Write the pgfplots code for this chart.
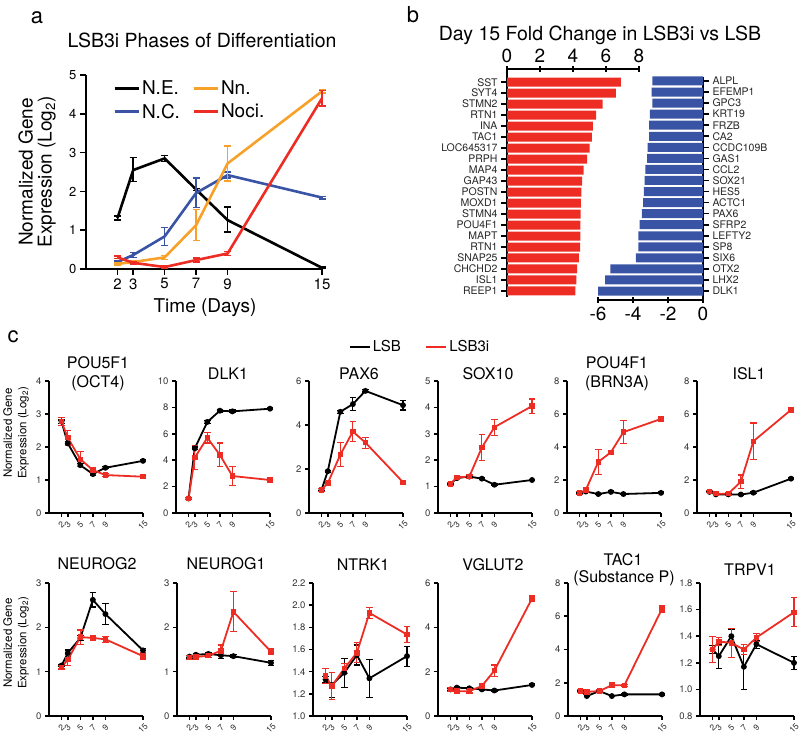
\documentclass[border=0pt]{standalone}
\usepackage{fontspec}
\setmainfont{TeX Gyre Heros}
\usepackage{pgfplots}
\pgfplotsset{compat=1.18}
\definecolor{pred}{RGB}{237,45,36}
\definecolor{pblue}{RGB}{58,84,165}
\definecolor{porange}{RGB}{247,161,42}
\newcommand\fs[1]{\fontsize{#1}{#1}\selectfont}
\pgfplotsset{
  prism/.style={scale only axis, axis lines=left, axis line style={line width=2.2pt,-},
    every tick/.style={black,line width=1.6pt}, major tick length=4pt, tick align=outside,
    /pgf/number format/assume math mode=true, clip=false, enlargelimits=false},
  cax/.style={prism, width=94pt, height=132pt, xmin=0, xmax=15, xtick={2,3,5,7,9,15},
    xticklabel style={font=\fs{8.5}, anchor=center, yshift=-8pt, rotate=45, text=black!80},
    yticklabel style={font=\fs{9.5}, text=black!80}},
  ebar/.style={error bars/y dir=both, error bars/y explicit,
    error bars/error bar style={line width=1.2pt},
    error bars/error mark options={rotate=90, mark size=3.2pt, line width=1.2pt}},
  lsb/.style={black, line width=1.8pt, mark=*, mark size=2pt, ebar},
  lsbi/.style={pred, line width=1.8pt, mark=square*, mark size=1.8pt, ebar},
  aline/.style={line width=2.6pt, mark=none, error bars/y dir=both, error bars/y explicit,
    error bars/error bar style={line width=1.5pt},
    error bars/error mark options={rotate=90, mark size=3.5pt, line width=1.5pt}},
}
\begin{document}
\begin{tikzpicture}[x=1pt,y=1pt]
\path[use as bounding box] (0,0) rectangle (800,739);

% ---------------- panel a
\node[font=\fs{22}] at (37,721) {a};
\node[font=\fs{19.5}] at (202,699) {LSB3i Phases of Differentiation};
\node[font=\fs{19}, rotate=90, align=center] at (37,567) {Normalized Gene\\Expression (Log\textsubscript{2})};
\node[font=\fs{19}] at (205,431) {Time (Days)};
\begin{axis}[prism, at={(86pt,470pt)}, anchor=south west, width=236pt, height=194pt,
  xmin=0, xmax=15, ymin=0, ymax=5, xtick={2,3,5,7,9,15}, ytick={0,1,2,3,4,5},
  axis line style={line width=2.6pt}, major tick length=6pt,
  xticklabel style={font=\fs{15}}, yticklabel style={font=\fs{13}},
  legend columns=2, legend cell align=left,
  legend image code/.code={\draw[#1, line width=3pt] (0pt,0pt) -- (24pt,0pt);},
  legend style={draw=none, fill=none, inner sep=0pt, at={(0.114,0.871)}, anchor=west,
    font=\fs{19}, row sep=4pt, /tikz/every even column/.append style={column sep=10pt}}]
\addlegendimage{black}\addlegendentry{N.E.}
\addlegendimage{porange}\addlegendentry{Nn.}
\addlegendimage{pblue}\addlegendentry{N.C.}
\addlegendimage{pred}\addlegendentry{Noci.}
\addplot[aline, black, forget plot] coordinates {(2,1.31) +- (0,0.05) (3,2.55) += (0,0.32) -= (0,0.30) (5,2.85) +- (0,0.08) (7,2.05) +- (0,0.03) (9,1.26) += (0,0.34) -= (0,0.31) (15,0.03) +- (0,0.02)};
\addplot[aline, pblue, forget plot] coordinates {(2,0.18) +- (0,0.03) (3,0.36) +- (0,0.07) (5,0.84) +- (0,0.23) (7,1.96) +- (0,0.38) (9,2.42) +- (0,0.08) (15,1.84) +- (0,0.03)};
\addplot[aline, porange, forget plot] coordinates {(2,0.13) +- (0,0.03) (3,0.18) +- (0,0.03) (5,0.30) +- (0,0.05) (7,1.13) +- (0,0.40) (9,2.72) +- (0,0.45) (15,4.58) +- (0,0.04)};
\addplot[aline, pred, forget plot] coordinates {(2,0.30) +- (0,0.03) (3,0.16) +- (0,0.03) (5,0.05) +- (0,0.03) (7,0.23) +- (0,0.05) (9,0.40) +- (0,0.05) (15,4.40) +- (0,0.20)};
\end{axis}

% ---------------- panel b
\node[font=\fs{22}] at (413,724) {b};
\node[font=\fs{19.5}] at (600,704) {Day 15 Fold Change in LSB3i vs LSB};
\begin{axis}[prism, at={(507pt,442pt)}, anchor=south west, width=132pt, height=228pt,
  axis x line=top, axis y line=left, axis line style={line width=2.2pt,-},
  xmin=0, xmax=8, ymin=-1.2, ymax=19.55, y dir=reverse,
  xtick={0,2,4,6,8}, xticklabel style={font=\fs{19}},
  ytick={0,...,19}, major tick length=6pt,
  yticklabels={SST,SYT4,STMN2,RTN1,INA,TAC1,LOC645317,PRPH,MAP4,GAP43,POSTN,MOXD1,STMN4,POU4F1,MAPT,RTN1,SNAP25,CHCHD2,ISL1,REEP1},
  yticklabel style={font=\fs{10.5}, text=black!85},
  xbar, bar width=9pt, bar shift=0pt]
\addplot[fill=pred, draw=none] coordinates {(6.9,0) (6.6,1) (5.8,2) (5.4,3) (5.2,4) (5.15,5) (5.0,6) (4.85,7) (4.65,8) (4.55,9) (4.5,10) (4.48,11) (4.46,12) (4.45,13) (4.44,14) (4.43,15) (4.35,16) (4.25,17) (4.2,18) (4.15,19)};
\end{axis}
\begin{axis}[prism, at={(598pt,439pt)}, anchor=south west, width=105pt, height=223pt,
  axis x line=bottom, axis y line=right, axis line style={line width=2.2pt,-},
  xmin=-6, xmax=0, ymin=-0.36, ymax=19.81, y dir=reverse,
  xtick={-6,-4,-2,0}, xticklabels={-6,-4,-2,0}, xticklabel style={font=\fs{19}},
  ytick={0,...,19}, major tick length=6pt,
  yticklabels={ALPL,EFEMP1,GPC3,KRT19,FRZB,CA2,CCDC109B,GAS1,CCL2,SOX21,HES5,ACTC1,PAX6,SFRP2,LEFTY2,SP8,SIX6,OTX2,LHX2,DLK1},
  yticklabel style={font=\fs{10.5}, text=black!85},
  xbar, bar width=9pt, bar shift=0pt]
\addplot[fill=pblue, draw=none] coordinates {(-2.9,0) (-2.93,1) (-2.9,2) (-3.03,3) (-3.08,4) (-3.08,5) (-3.16,6) (-3.2,7) (-3.3,8) (-3.34,9) (-3.38,10) (-3.42,11) (-3.5,12) (-3.62,13) (-3.7,14) (-3.7,15) (-3.84,16) (-5.3,17) (-5.6,18) (-6.0,19)};
\end{axis}

% ---------------- panel c
\node[font=\fs{22}] at (13,402) {c};
\node[font=\fs{11.5}, rotate=90, align=center] at (16,306) {Normalized Gene\\[3pt]Expression (Log\textsubscript{2})};
\node[font=\fs{11.5}, rotate=90, align=center] at (16,96) {Normalized Gene\\[3pt]Expression (Log\textsubscript{2})};
% titles row 1
\node[font=\fs{16}, anchor=base, align=center] at (98,370) {POU5F1};
\node[font=\fs{16}, anchor=base] at (98,351) {(OCT4)};
\node[font=\fs{16}, anchor=base] at (228,359) {DLK1};
\node[font=\fs{16}, anchor=base] at (359,359) {PAX6};
\node[font=\fs{16}, anchor=base] at (488,359) {SOX10};
\node[font=\fs{16}, anchor=base] at (617,370) {POU4F1};
\node[font=\fs{16}, anchor=base] at (617,351) {(BRN3A)};
\node[font=\fs{16}, anchor=base] at (749,359) {ISL1};
% titles row 2
\node[font=\fs{16}, anchor=base] at (97,169) {NEUROG2};
\node[font=\fs{16}, anchor=base] at (226,169) {NEUROG1};
\node[font=\fs{16}, anchor=base] at (363,168) {NTRK1};
\node[font=\fs{16}, anchor=base] at (493,168) {VGLUT2};
\node[font=\fs{16}, anchor=base] at (623,173) {TAC1};
\node[font=\fs{16}, anchor=base] at (624,156) {(Substance P)};
\node[font=\fs{16}, anchor=base] at (750,164) {TRPV1};

% POU5F1
\begin{axis}[cax, at={(49pt,226pt)}, anchor=south west, ymin=0, ymax=4, ytick={0,1,2,3,4}]
\addplot[lsb] coordinates {(2,2.77) +- (0,0.05) (3,2.11) +- (0,0.05) (5,1.45) +- (0,0.05) (7,1.18) +- (0,0.04) (9,1.37) +- (0,0.03) (15,1.58) +- (0,0.03)};
\addplot[lsbi] coordinates {(2,2.77) +- (0,0.12) (3,2.28) +- (0,0.22) (5,1.63) +- (0,0.23) (7,1.30) +- (0,0.07) (9,1.15) +- (0,0.04) (15,1.10) +- (0,0.04)};
\end{axis}
% DLK1
\begin{axis}[cax, at={(176pt,226pt)}, anchor=south west, ymin=0, ymax=10, ytick={0,2,4,6,8,10}]
\addplot[lsb] coordinates {(2,1.1) +- (0,0.05) (3,4.9) +- (0,0.1) (5,6.9) +- (0,0.1) (7,7.75) +- (0,0.1) (9,7.7) +- (0,0.1) (15,7.9) +- (0,0.05)};
\addplot[lsbi] coordinates {(2,1.1) +- (0,0.1) (3,4.2) +- (0,0.9) (5,5.7) +- (0,0.4) (7,4.4) +- (0,0.9) (9,2.8) +- (0,0.7) (15,2.5) +- (0,0.05)};
\end{axis}
% PAX6
\begin{axis}[cax, at={(309pt,226pt)}, anchor=south west, ymin=0, ymax=6, ytick={0,2,4,6},
  legend columns=2,
  legend image code/.code={\draw[#1, line width=2.6pt] (0pt,0pt) -- (20pt,0pt);},
  legend style={draw=none, fill=none, inner sep=0pt, at={(0.415,1.258)}, anchor=west,
    font=\fs{15}, /tikz/every even column/.append style={column sep=22pt}}]
\addlegendimage{black}\addlegendentry{LSB}
\addlegendimage{pred}\addlegendentry{LSB3i}
\addplot[lsb, forget plot] coordinates {(2,1.05) +- (0,0.05) (3,1.9) +- (0,0.05) (5,4.6) +- (0,0.07) (7,4.95) +- (0,0.3) (9,5.55) +- (0,0.05) (15,4.9) +- (0,0.22)};
\addplot[lsbi, forget plot] coordinates {(2,1.05) +- (0,0.08) (3,1.36) +- (0,0.08) (5,2.65) +- (0,0.55) (7,3.7) +- (0,0.45) (9,3.2) +- (0,0.25) (15,1.4) +- (0,0.05)};
\end{axis}
% SOX10
\begin{axis}[cax, at={(438pt,226pt)}, anchor=south west, ymin=0, ymax=5, ytick={0,1,2,3,4,5}]
\addplot[lsb] coordinates {(2,1.1) +- (0,0.03) (3,1.32) +- (0,0.03) (5,1.38) +- (0,0.03) (7,1.3) +- (0,0.03) (9,1.07) +- (0,0.03) (15,1.25) +- (0,0.03)};
\addplot[lsbi] coordinates {(2,1.1) +- (0,0.06) (3,1.35) +- (0,0.06) (5,1.38) +- (0,0.06) (7,2.48) +- (0,0.5) (9,3.25) +- (0,0.3) (15,4.05) +- (0,0.27)};
\end{axis}
% POU4F1
\begin{axis}[cax, at={(567pt,226pt)}, anchor=south west, ymin=0, ymax=8, ytick={0,2,4,6,8}]
\addplot[lsb] coordinates {(2,1.2) +- (0,0.05) (3,1.3) +- (0,0.05) (5,1.15) +- (0,0.05) (7,1.28) +- (0,0.05) (9,1.15) +- (0,0.05) (15,1.22) +- (0,0.05)};
\addplot[lsbi] coordinates {(2,1.2) +- (0,0.08) (3,1.4) +- (0,0.1) (5,3.1) +- (0,0.75) (7,3.68) +- (0,0.12) (9,4.9) +- (0,0.7) (15,5.7) +- (0,0.15)};
\end{axis}
% ISL1
\begin{axis}[cax, at={(697pt,226pt)}, anchor=south west, ymin=0, ymax=8, ytick={0,2,4,6,8}]
\addplot[lsb] coordinates {(2,1.28) +- (0,0.05) (3,1.13) +- (0,0.05) (5,1.13) +- (0,0.05) (7,1.12) +- (0,0.05) (9,1.23) +- (0,0.05) (15,2.08) +- (0,0.05)};
\addplot[lsbi] coordinates {(2,1.3) +- (0,0.08) (3,1.17) +- (0,0.06) (5,1.17) +- (0,0.08) (7,1.9) +- (0,0.4) (9,4.35) +- (0,1.1) (15,6.25) +- (0,0.15)};
\end{axis}

% NEUROG2
\begin{axis}[cax, height=133pt, at={(49pt,23pt)}, anchor=south west, ymin=0, ymax=3, ytick={0,1,2,3}]
\addplot[lsb] coordinates {(2,1.14) +- (0,0.03) (3,1.42) +- (0,0.07) (5,1.76) +- (0,0.05) (7,2.62) +- (0,0.16) (9,2.3) +- (0,0.23) (15,1.48) +- (0,0.05)};
\addplot[lsbi] coordinates {(2,1.1) +- (0,0.04) (3,1.27) +- (0,0.13) (5,1.78) +- (0,0.16) (7,1.76) +- (0,0.03) (9,1.73) +- (0,0.07) (15,1.35) +- (0,0.08)};
\end{axis}
% NEUROG1
\begin{axis}[cax, height=133pt, at={(177pt,23pt)}, anchor=south west, ymin=0, ymax=3, ytick={0,1,2,3}]
\addplot[lsb] coordinates {(2,1.34) +- (0,0.03) (3,1.38) +- (0,0.03) (5,1.4) +- (0,0.03) (7,1.37) +- (0,0.07) (9,1.35) +- (0,0.03) (15,1.2) +- (0,0.06)};
\addplot[lsbi] coordinates {(2,1.32) +- (0,0.04) (3,1.33) +- (0,0.04) (5,1.36) +- (0,0.04) (7,1.47) +- (0,0.13) (9,2.35) +- (0,0.45) (15,1.45) +- (0,0.07)};
\end{axis}
% NTRK1
\begin{axis}[cax, height=133pt, at={(313pt,23pt)}, anchor=south west, ymin=1, ymax=2.2,
  ytick={1.0,1.2,1.4,1.6,1.8,2.0,2.2}, yticklabels={1.0,1.2,1.4,1.6,1.8,2.0,2.2}]
\addplot[lsb] coordinates {(2,1.33) +- (0,0.03) (3,1.28) +- (0,0.11) (5,1.39) +- (0,0.13) (7,1.55) +- (0,0.09) (9,1.34) +- (0,0.17) (15,1.54) +- (0,0.09)};
\addplot[lsbi] coordinates {(2,1.36) +- (0,0.065) (3,1.27) +- (0,0.12) (5,1.43) +- (0,0.045) (7,1.57) +- (0,0.09) (9,1.93) +- (0,0.05) (15,1.735) +- (0,0.07)};
\end{axis}
% VGLUT2
\begin{axis}[cax, height=133pt, at={(438pt,23pt)}, anchor=south west, ymin=0, ymax=6, ytick={0,2,4,6}]
\addplot[lsb] coordinates {(2,1.2) +- (0,0.04) (3,1.28) +- (0,0.04) (5,1.25) +- (0,0.04) (7,1.2) +- (0,0.04) (9,1.15) +- (0,0.04) (15,1.4) +- (0,0.04)};
\addplot[lsbi] coordinates {(2,1.2) +- (0,0.08) (3,1.12) +- (0,0.08) (5,1.12) +- (0,0.08) (7,1.35) +- (0,0.1) (9,2.05) +- (0,0.25) (15,5.3) +- (0,0.12)};
\end{axis}
% TAC1
\begin{axis}[cax, height=133pt, at={(568pt,23pt)}, anchor=south west, ymin=0, ymax=8, ytick={0,2,4,6,8}]
\addplot[lsb] coordinates {(2,1.5) +- (0,0.05) (3,1.2) +- (0,0.05) (5,1.5) +- (0,0.05) (7,1.2) +- (0,0.05) (9,1.3) +- (0,0.05) (15,1.3) +- (0,0.05)};
\addplot[lsbi] coordinates {(2,1.5) +- (0,0.08) (3,1.45) +- (0,0.08) (5,1.5) +- (0,0.06) (7,1.85) +- (0,0.15) (9,1.85) +- (0,0.06) (15,6.45) +- (0,0.2)};
\end{axis}
% TRPV1
\begin{axis}[cax, height=133pt, at={(700pt,23pt)}, anchor=south west, ymin=0.8, ymax=1.8,
  ytick={0.8,1.0,1.2,1.4,1.6,1.8}, yticklabels={0.8,1.0,1.2,1.4,1.6,1.8}]
\addplot[lsb] coordinates {(2,1.3) +- (0,0.03) (3,1.25) +- (0,0.09) (5,1.4) +- (0,0.05) (7,1.17) +- (0,0.17) (9,1.34) +- (0,0.03) (15,1.2) +- (0,0.05)};
\addplot[lsbi] coordinates {(2,1.3) +- (0,0.1) (3,1.36) +- (0,0.03) (5,1.35) +- (0,0.11) (7,1.3) +- (0,0.04) (9,1.39) +- (0,0.03) (15,1.58) +- (0,0.11)};
\end{axis}
\end{tikzpicture}
\end{document}
